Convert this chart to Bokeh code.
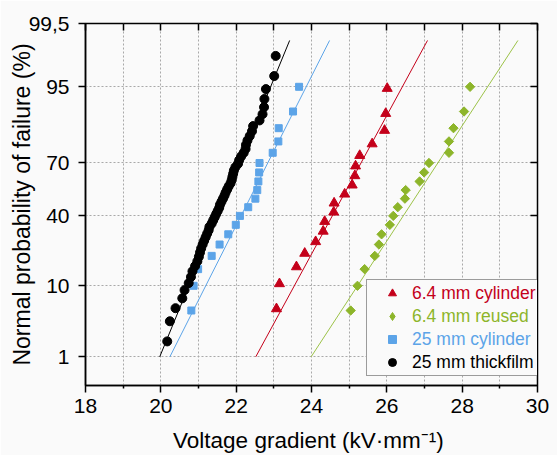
from statistics import NormalDist
from bokeh.plotting import figure
from bokeh.models import (Range1d, FixedTicker, LinearAxis, Legend, LegendItem,
                          CustomJSTickFormatter)
from bokeh.embed import file_html
from bokeh.resources import INLINE
from bokeh.core.properties import value
import math

# ---------------- data ----------------
cyl64_kv = [23.07, 23.15, 23.60, 23.82, 24.11, 24.31, 24.35, 24.59, 24.60, 24.88,
            25.08, 25.15, 25.17, 25.28, 25.61, 25.94, 25.97, 26.01]
cyl64_pct = [5.26, 10.53, 15.79, 21.05, 26.32, 31.58, 36.84, 42.11, 47.37, 52.63,
             57.89, 63.16, 68.42, 73.68, 78.95, 84.21, 89.47, 94.74]

reused64_kv = [25.04, 25.22, 25.41, 25.68, 25.79, 25.86, 26.08, 26.17, 26.29, 26.48,
               26.50, 26.87, 26.99, 27.12, 27.65, 27.65, 27.77, 28.05, 28.21]
reused64_pct = [5, 10, 15, 20, 25, 30, 35, 40, 45, 50,
                55, 60, 65, 70, 75, 80, 85, 90, 95]

cyl25_kv = [20.81, 20.87, 20.99, 21.35, 21.56, 21.79, 21.99, 22.10, 22.32, 22.51,
            22.56, 22.59, 22.61, 22.62, 22.97, 23.12, 23.13, 23.51, 23.67]
cyl25_pct = [5, 10, 15, 20, 25, 30, 35, 40, 45, 50,
             55, 60, 65, 70, 75, 80, 85, 90, 95]

thick25_kv = [20.17, 20.24, 20.39, 20.57, 20.63, 20.74, 20.80, 20.84, 20.91, 20.97,
              21.01, 21.04, 21.07, 21.11, 21.15, 21.19, 21.23, 21.27, 21.29, 21.35,
              21.39, 21.43, 21.47, 21.51, 21.55, 21.57, 21.61, 21.65, 21.69, 21.72,
              21.76, 21.80, 21.85, 21.88, 21.90, 21.92, 21.94, 21.98, 22.05, 22.08,
              22.13, 22.20, 22.25, 22.26, 22.30, 22.36, 22.42, 22.45, 22.62, 22.70,
              22.74, 22.75, 22.79, 23.01, 23.05]
thick25_pct = [1.79, 3.57, 5.36, 7.14, 8.93, 10.71, 12.50, 14.29, 16.07, 17.86,
               19.64, 21.43, 23.21, 25.00, 26.79, 28.57, 30.36, 32.14, 33.93, 35.71,
               37.50, 39.29, 41.07, 42.86, 44.64, 46.43, 48.21, 50.00, 51.79, 53.57,
               55.36, 57.14, 58.93, 60.71, 62.50, 64.29, 66.07, 67.86, 69.64, 71.43,
               73.21, 75.00, 76.79, 78.57, 80.36, 82.14, 83.93, 85.71, 87.50, 89.29,
               91.07, 92.86, 94.64, 96.43, 98.21]

fit_pct = [1, 99]
fit_thick25_kv = [19.97, 23.42]
fit_cyl25_kv = [20.24, 24.48]
fit_cyl64_kv = [22.52, 27.08]
fit_reused64_kv = [23.99, 29.48]

x_major = [18, 20, 22, 24, 26, 28, 30]
x_minor = [19, 21, 23, 25, 27, 29]
y_tick_pct = [1, 10, 40, 70, 95, 99.5]
y_tick_labels = ["1", "10", "40", "70", "95", "99,5"]
y_range_pct = [0.3, 99.5]

series_names = ["6.4 mm cylinder", "6.4 mm reused", "25 mm cylinder", "25 mm thickfilm"]

# ---------------- style ----------------
FONT = "Liberation Sans"
BG = "#fafafa"
RED = "#c4001a"
GREEN = "#8db52a"
BLUE = "#5ca4e8"
BLACK = "#000000"
GRID = "#a9a9a9"

nd = NormalDist()


def probit(pcts):
    return [nd.inv_cdf(v / 100.0) for v in pcts]


y_ticks = probit(y_tick_pct)
y0, y1 = probit(y_range_pct)

p = figure(width=557, height=455, output_backend="svg", toolbar_location=None,
           x_range=Range1d(x_major[0], x_major[-1]), y_range=Range1d(y0, y1),
           min_border_left=85, min_border_right=20, min_border_top=23,
           min_border_bottom=70, background_fill_color=BG, border_fill_color=BG,
           outline_line_color="black", outline_line_width=1.5)

xt = FixedTicker(ticks=x_major, minor_ticks=x_minor)
yt = FixedTicker(ticks=y_ticks)

# bottom axis
xa = p.xaxis[0]
xa.ticker = xt
xa.major_tick_out = 7
xa.major_tick_in = 0
xa.minor_tick_out = 3
xa.minor_tick_in = 0
xa.axis_line_width = 1.5
xa.major_tick_line_width = 1.5
xa.minor_tick_line_width = 1.5
xa.major_label_text_font = FONT
xa.major_label_text_font_size = "21px"
xa.major_label_text_color = "black"
xa.major_label_standoff = 6
xa.axis_label = "Voltage gradient  (kV·mm⁻¹)"
xa.axis_label_text_font = FONT
xa.axis_label_text_font_size = "22.5px"
xa.axis_label_text_font_style = "normal"
xa.axis_label_text_color = "black"
xa.axis_label_text_line_height = 0.7
xa.axis_label_standoff = 12

# left axis
ya = p.yaxis[0]
ya.ticker = yt
ya.major_label_overrides = {t: s for t, s in zip(y_ticks, y_tick_labels)}
ya.major_tick_out = 7
ya.major_tick_in = 0
ya.minor_tick_out = 0
ya.minor_tick_in = 0
ya.axis_line_width = 1.5
ya.major_tick_line_width = 1.5
ya.major_label_text_font = FONT
ya.major_label_text_font_size = "21px"
ya.major_label_text_color = "black"
ya.major_label_standoff = 9
ya.axis_label = "Normal probability of failure (%)"
ya.axis_label_text_font = FONT
ya.axis_label_text_font_size = "23px"
ya.axis_label_text_font_style = "normal"
ya.axis_label_text_color = "black"
ya.axis_label_standoff = -9

# mirror axes (ticks inward)
top_axis = LinearAxis(ticker=FixedTicker(ticks=x_major + x_minor),
                      formatter=CustomJSTickFormatter(code="return ''"),
                      major_tick_in=7, major_tick_out=0, minor_tick_in=0, minor_tick_out=0,
                      major_tick_line_width=1.5, axis_line_color=None, major_label_standoff=0)
right_axis = LinearAxis(ticker=FixedTicker(ticks=y_ticks),
                        formatter=CustomJSTickFormatter(code="return ''"),
                        major_tick_in=7, major_tick_out=0, minor_tick_in=0, minor_tick_out=0,
                        major_tick_line_width=1.5, axis_line_color=None, major_label_standoff=0)
p.add_layout(top_axis, "above")
p.add_layout(right_axis, "right")

# grids
for g in (p.xgrid[0], p.ygrid[0]):
    g.grid_line_color = GRID
    g.grid_line_dash = "2 2"
    g.grid_line_width = 1
p.xgrid[0].ticker = xt
p.xgrid[0].minor_grid_line_color = GRID
p.xgrid[0].minor_grid_line_dash = "2 2"
p.ygrid[0].ticker = yt

# fit lines
p.line(fit_cyl64_kv, probit(fit_pct), line_color=RED, line_width=1)
p.line(fit_reused64_kv, probit(fit_pct), line_color="#9cc248", line_width=1)
p.line(fit_cyl25_kv, probit(fit_pct), line_color=BLUE, line_width=1)
p.line(fit_thick25_kv, probit(fit_pct), line_color=BLACK, line_width=1)

# markers
r_red = p.scatter(cyl64_kv, probit(cyl64_pct), marker="triangle", size=10,
                  fill_color=RED, line_color=RED)
r_green = p.scatter(reused64_kv, probit(reused64_pct), marker="square", angle=math.pi / 4,
                    size=6.6, fill_color=GREEN, line_color=GREEN)
r_blue = p.scatter(cyl25_kv, probit(cyl25_pct), marker="square", size=7,
                   fill_color=BLUE, line_color=BLUE)
r_black = p.scatter(thick25_kv, probit(thick25_pct), marker="circle", size=9,
                    fill_color=BLACK, line_color=BLACK)
# hidden twin of the reused series, used only for its diamond legend key
r_green_key = p.scatter(reused64_kv, probit(reused64_pct), marker="diamond",
                        fill_color=GREEN, line_color=GREEN, visible=False)
# empty renderer used by the text-only legend rows
r_none = p.scatter(x=[], y=[], fill_alpha=0, line_alpha=0)

# legend box with glyphs
box = Legend(items=[LegendItem(label=value(""), renderers=[r])
                    for r in (r_red, r_green_key, r_blue, r_black)],
             location=(281, 9), padding=3, spacing=3, glyph_width=44, glyph_height=20,
             label_height=20, label_width=300, label_standoff=0, margin=0,
             border_line_color="#3c3c3c", border_line_width=1,
             background_fill_color=BG, background_fill_alpha=1.0)
p.add_layout(box, "center")

# coloured legend texts (one single-row legend each, no box)
for name, col, yy in zip(series_names, (RED, GREEN, BLUE, BLACK), (81, 58, 35, 12)):
    lg = Legend(items=[LegendItem(label=value(name), renderers=[r_none])],
                location=(326, yy), padding=0, spacing=0, glyph_width=1, glyph_height=20,
                label_height=20, label_standoff=0, margin=0,
                border_line_color=None, background_fill_alpha=0.0,
                label_text_font=FONT, label_text_font_size="17.5px",
                label_text_color=col)
    p.add_layout(lg, "center")

open("out.html", "w").write(file_html(p, INLINE))
